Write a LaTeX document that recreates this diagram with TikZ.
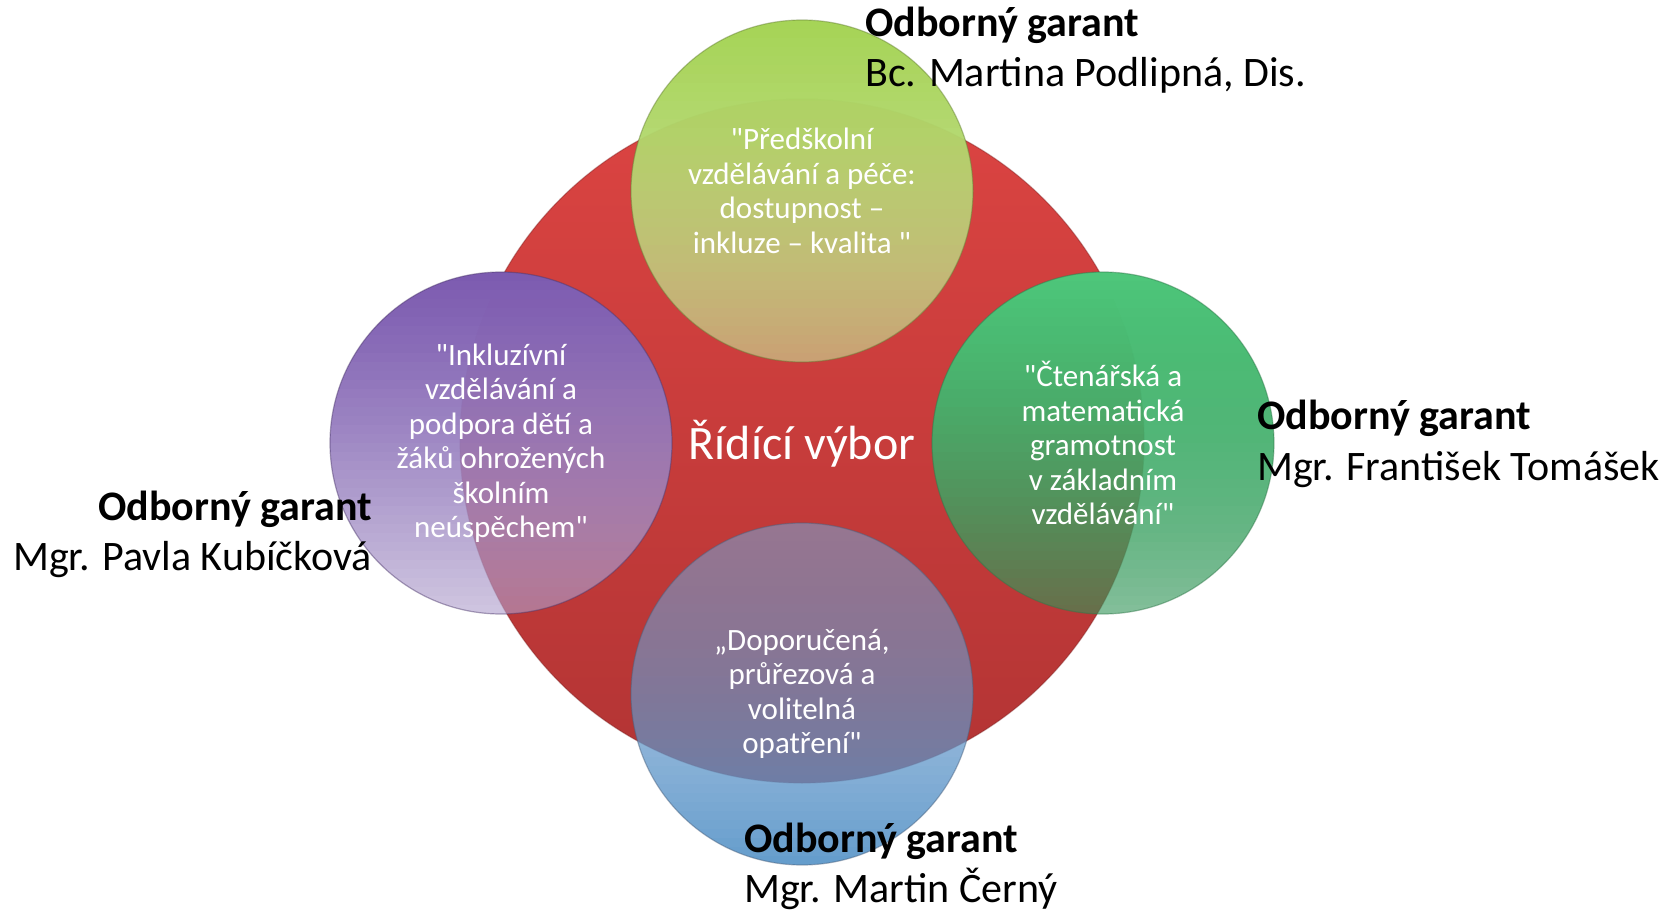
\documentclass[tikz,border=0pt]{standalone}
\usepackage{fontspec}
\setmainfont{Carlito}[Ligatures=TeXOff]
\definecolor{redT}{RGB}{220,68,66}
\definecolor{redB}{RGB}{178,52,52}
\definecolor{ygT}{RGB}{166,212,86}
\definecolor{ygB}{RGB}{200,220,150}
\definecolor{puT}{RGB}{124,90,176}
\definecolor{puB}{RGB}{176,160,204}
\definecolor{grT}{RGB}{78,198,122}
\definecolor{grB}{RGB}{50,148,88}
\definecolor{blT}{RGB}{122,158,205}
\definecolor{blB}{RGB}{82,145,198}
% glass ball: #1 centre coordinate, #2 top colour, #3 bottom colour, #4 top opacity, #5 bottom opacity
\newcommand\glassball[5]{%
  \begin{scope}
    \clip (#1) circle (171pt);
    \foreach \i in {0,...,37}{%
      \pgfmathsetmacro\myt{(\i+0.5)/38}%
      \pgfmathtruncatemacro\myp{round(100*(1-\myt))}%
      \pgfmathsetmacro\myop{#4+(#5-#4)*\myt*\myt}%
      \fill[#2!\myp!#3, fill opacity=\myop, shift={(#1)}] (-172,-171+9*\i) rectangle (172,-162+9*\i);
    }
  \end{scope}
  \draw[line width=1.2pt, #2!60!black, draw opacity=0.45] (#1) circle (171pt);
}
\tikzset{
  intext/.style={text=white, align=center, inner sep=0pt, font=\fontsize{31}{34.5}\selectfont},
  lbl/.style={font=\fontsize{42}{50}\selectfont\bfseries, inner sep=0pt},
  nm/.style={font=\fontsize{42}{50}\selectfont, inner sep=0pt},
}
\begin{document}
\begin{tikzpicture}[x=1pt,y=-1pt]
\useasboundingbox (0,0) rectangle (1674,912);
\coordinate (core) at (802,441);
\coordinate (cT) at (802,191);
\coordinate (cL) at (501,443);
\coordinate (cR) at (1103,443);
\coordinate (cB) at (802,694);
% central circle
\path[line width=1.2pt, top color=redT, bottom color=redB, draw=redB!70!black, draw opacity=0.4] (core) circle (342pt);
% four circles
\glassball{cT}{ygT}{ygB}{1}{0.62}
\glassball{cL}{puT}{puB}{1}{0.6}
\glassball{cR}{grT}{grB}{1}{0.6}
\glassball{cB}{blT}{blB}{0.6}{0.9}
% texts
\node[text=white, inner sep=0pt, anchor=base, font=\fontsize{48}{56}\selectfont] (tC) at (802,459) {Řídící výbor};
\node[intext] (tT) at (cT) {"Předškolní\\vzdělávání a péče:\\dostupnost –\\inkluze – kvalita "};
\node[intext] (tL) at (cL) {"Inkluzívní\\vzdělávání a\\podpora dětí a\\žáků ohrožených\\školním\\neúspěchem"};
\node[intext] (tR) at (cR) {"Čtenářská a\\matematická\\gramotnost\\v základním\\vzdělávání"};
\node[intext] (tB) at (cB) {„Doporučená,\\průřezová a\\volitelná\\opatření"};
% labels
\node[lbl, anchor=base west] (gT) at (865,37) {Odborný garant};
\node[nm, anchor=base west] (nT) at (865,87) {Bc. Martina Podlipná, Dis.};
\node[lbl, anchor=base west] (gR) at (1257,429) {Odborný garant};
\node[nm, anchor=base west] (nR) at (1257,480) {Mgr. František Tomášek};
\node[lbl, anchor=base east] (gL) at (372,520) {Odborný garant};
\node[nm, anchor=base east] (nL) at (372,570) {Mgr. Pavla Kubíčková};
\node[lbl, anchor=base west] (gB) at (744,852) {Odborný garant};
\node[nm, anchor=base west] (nB) at (744,902) {Mgr. Martin Černý};
\end{tikzpicture}
\end{document}
